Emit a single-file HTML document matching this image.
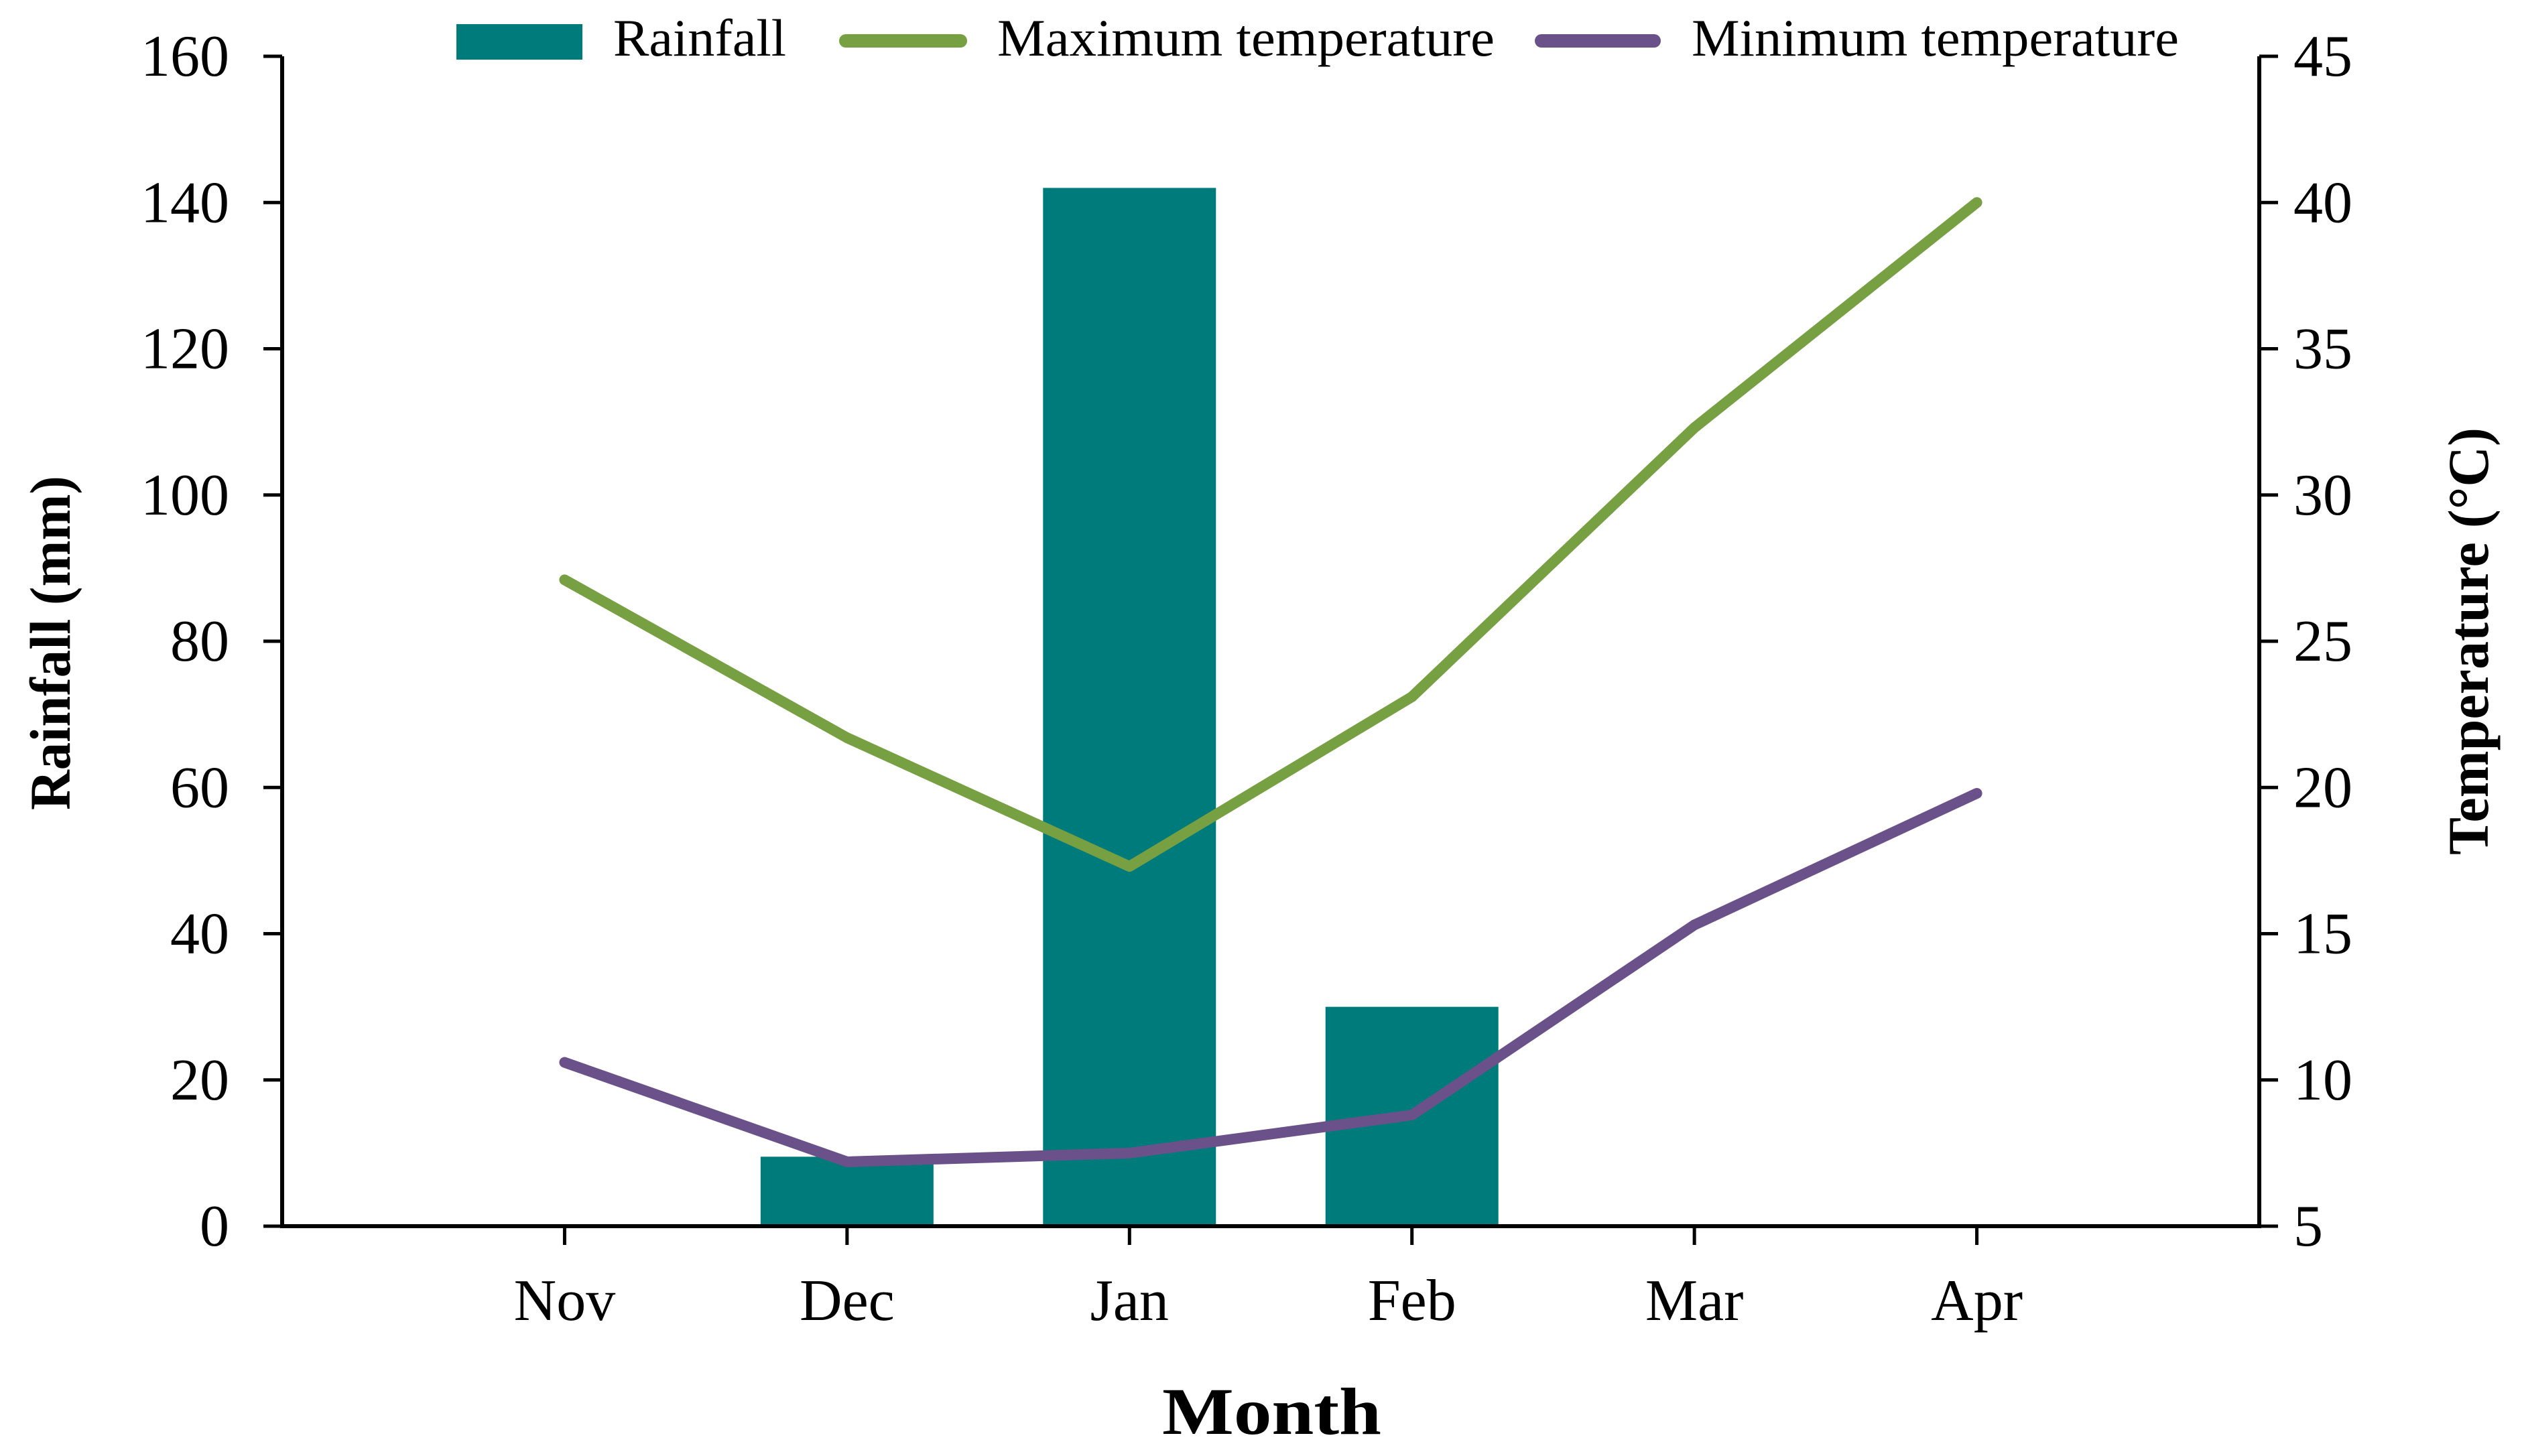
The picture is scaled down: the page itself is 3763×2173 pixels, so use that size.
<!DOCTYPE html>
<html><head><meta charset="utf-8"><style>html,body{margin:0;padding:0;background:#fff}svg{display:block}</style></head>
<body>
<svg id="chart" width="3763" height="2173" viewBox="0 0 3763 2173" xmlns="http://www.w3.org/2000/svg" font-family="'Liberation Serif', serif"></svg>
<script>
const months = ["Nov","Dec","Jan","Feb","Mar","Apr"];
const rainfall = [0, 9.5, 142, 30, 0, 0];
const maxTemp = [27.1, 21.7, 17.3, 23.1, 32.3, 40.0];
const minTemp = [10.6, 7.2, 7.5, 8.8, 15.3, 19.8];
const leftTicks = [0,20,40,60,80,100,120,140,160];
const rightTicks = [5,10,15,20,25,30,35,40,45];

const NS = "http://www.w3.org/2000/svg";
const svg = document.getElementById('chart');
const L = 421, R = 3371, T = 84, B = 1830;
const slot = (R - L) / 7;
const xS = i => L + (i + 1) * slot;
const yL = v => B - (v / 160) * (B - T);
const yR = v => B - ((v - 5) / 40) * (B - T);
function mk(tag, attrs, parent) {
  const e = document.createElementNS(NS, tag);
  for (const k in attrs) e.setAttribute(k, attrs[k]);
  (parent || svg).appendChild(e);
  return e;
}
const barW = 258;
rainfall.forEach((v, i) => {
  if (v <= 0) return;
  const r = mk('rect', {x: xS(i) - barW/2, y: yL(v), width: barW, height: B - yL(v), fill: '#007b7b'});
  
  
});
function line(vals, color, name) {
  const p = mk('polyline', {points: vals.map((v, i) => xS(i) + ',' + yR(v)).join(' '), fill: 'none', stroke: color, 'stroke-width': 16, 'stroke-linejoin': 'round', 'stroke-linecap': 'round'});
  
  
}
line(maxTemp, '#76a042', 'max-temperature-line');
line(minTemp, '#6b5189', 'min-temperature-line');
const ax = mk('path', {d: `M${L},${T} V${B} H${R} V${T}`, fill: 'none', stroke: '#000', 'stroke-width': 6});


leftTicks.forEach(v => {
  mk('line', {x1: L - 28, x2: L, y1: yL(v), y2: yL(v), stroke: '#000', 'stroke-width': 5});
  const t = mk('text', {x: 342, y: yL(v) + 29, 'text-anchor': 'end', 'font-size': 88});
  t.textContent = v;
  
  
});
rightTicks.forEach(v => {
  mk('line', {x1: R, x2: R + 28, y1: yR(v), y2: yR(v), stroke: '#000', 'stroke-width': 5});
  const t = mk('text', {x: 3422, y: yR(v) + 29, 'text-anchor': 'start', 'font-size': 88});
  t.textContent = v;
  
  
});
months.forEach((m, i) => {
  mk('line', {x1: xS(i), x2: xS(i), y1: B, y2: B + 28, stroke: '#000', 'stroke-width': 5});
  const t = mk('text', {x: xS(i), y: 1970, 'text-anchor': 'middle', 'font-size': 88});
  t.textContent = m;
  
  
});
</script>
<svg style="position:absolute;left:0;top:0" width="3763" height="2173" font-family="'Liberation Serif', serif">
  <text x="1734" y="2140" font-size="100" font-weight="bold" textLength="327" lengthAdjust="spacingAndGlyphs">Month</text>
  <text transform="translate(104,1209) rotate(-90)" font-size="86" font-weight="bold" textLength="499" lengthAdjust="spacingAndGlyphs">Rainfall (mm)</text>
  <text transform="translate(3712,1276) rotate(-90)" font-size="86" font-weight="bold" textLength="638" lengthAdjust="spacingAndGlyphs">Temperature (°C)</text>
  <g>
    <rect x="681" y="36" width="188" height="53" fill="#007b7b"/>
    <text x="915" y="83" font-size="78" textLength="258" lengthAdjust="spacingAndGlyphs">Rainfall</text>
    <line x1="1262" y1="61" x2="1433" y2="61" stroke="#76a042" stroke-width="20" stroke-linecap="round"/>
    <text x="1488" y="83" font-size="78" textLength="742" lengthAdjust="spacingAndGlyphs">Maximum temperature</text>
    <line x1="2300" y1="61" x2="2468" y2="61" stroke="#6b5189" stroke-width="20" stroke-linecap="round"/>
    <text x="2524" y="83" font-size="78" textLength="727" lengthAdjust="spacingAndGlyphs">Minimum temperature</text>
  </g>
</svg>
</body></html>
